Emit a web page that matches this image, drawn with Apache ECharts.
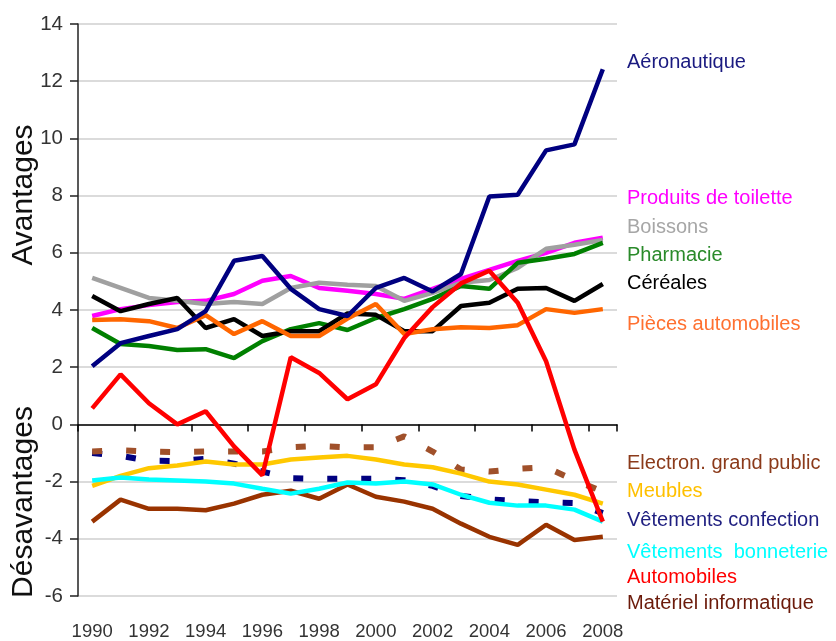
<!DOCTYPE html>
<html>
<head>
<meta charset="utf-8">
<script src="https://cdn.jsdelivr.net/npm/echarts@6/dist/echarts.min.js"></script>
<style>
  html, body { margin: 0; padding: 0; background: #fff; }
  #chart { width: 836px; height: 641px; }
</style>
</head>
<body>
<div id="chart"></div>
<script>
// Années
const years = ['1990', '1991', '1992', '1993', '1994', '1995', '1996', '1997', '1998', '1999',
  '2000', '2001', '2002', '2003', '2004', '2005', '2006', '2007', '2008'];

// Avantages
const aeronautique = [2.03, 2.84, 3.09, 3.33, 3.96, 5.72, 5.89, 4.74, 4.03, 3.79, 4.77, 5.12, 4.65, 5.26, 7.97, 8.03, 9.58, 9.79, 12.42];
const produitsToilette = [3.79, 4.03, 4.17, 4.28, 4.32, 4.56, 5.02, 5.19, 4.77, 4.67, 4.56, 4.39, 4.74, 5.09, 5.4, 5.72, 6.0, 6.35, 6.53];
const boissons = [5.12, 4.77, 4.42, 4.32, 4.21, 4.28, 4.21, 4.77, 4.95, 4.88, 4.84, 4.32, 4.6, 4.95, 5.05, 5.47, 6.14, 6.28, 6.45];
const pharmacie = [3.37, 2.81, 2.74, 2.6, 2.63, 2.32, 2.91, 3.33, 3.54, 3.3, 3.72, 4.03, 4.39, 4.84, 4.74, 5.65, 5.79, 5.96, 6.35];
const cereales = [4.49, 3.96, 4.21, 4.42, 3.37, 3.68, 3.09, 3.26, 3.26, 3.88, 3.83, 3.26, 3.26, 4.14, 4.25, 4.74, 4.77, 4.32, 4.91];
const piecesAuto = [3.65, 3.68, 3.61, 3.37, 3.82, 3.16, 3.61, 3.09, 3.09, 3.7, 4.21, 3.16, 3.33, 3.4, 3.37, 3.47, 4.03, 3.9, 4.03];
const automobiles = [0.56, 1.75, 0.74, 0.0, 0.46, -0.77, -1.78, 2.35, 1.8, 0.88, 1.4, 3.02, 4.1, 4.93, 5.37, 4.25, 2.21, -0.88, -3.4];

// Désavantages
const electron = [-0.95, -0.9, -0.95, -0.97, -0.95, -0.95, -0.95, -0.8, -0.75, -0.8, -0.8, -0.42, -0.95, -1.58, -1.65, -1.55, -1.5, -1.95, -2.35];
const confection = [-1.0, -1.1, -1.27, -1.28, -1.2, -1.37, -1.65, -1.88, -1.9, -1.9, -1.9, -1.95, -2.15, -2.5, -2.62, -2.68, -2.72, -2.75, -3.1];
const meubles = [-2.15, -1.8, -1.53, -1.44, -1.3, -1.4, -1.4, -1.23, -1.16, -1.1, -1.23, -1.4, -1.5, -1.72, -2.0, -2.1, -2.28, -2.46, -2.77];
const bonneterie = [-1.96, -1.86, -1.93, -1.96, -2.0, -2.07, -2.25, -2.42, -2.25, -2.03, -2.07, -2.0, -2.1, -2.46, -2.74, -2.84, -2.84, -2.98, -3.4];
const materielInfo = [-3.4, -2.63, -2.95, -2.95, -3.0, -2.77, -2.46, -2.32, -2.6, -2.1, -2.53, -2.7, -2.95, -3.47, -3.93, -4.21, -3.51, -4.04, -3.93];

// Étiquettes à droite
const labelNames = ['Aéronautique', 'Produits de toilette', 'Boissons', 'Pharmacie', 'Céréales', 'Pièces automobiles',
  'Electron. grand public', 'Meubles', 'Vêtements confection', 'Vêtements  bonneterie', 'Automobiles', 'Matériel informatique'];
const labelColors = ['#1a1a80', '#ff00ff', '#a6a6a6', '#2a8a2a', '#000000', '#ff7030',
  '#8b3a1a', '#ffc000', '#1f1f80', '#00ffff', '#ff0000', '#6b1a0a'];
const labelY = [62, 198, 227, 255, 283, 324, 463, 491, 520, 552, 577, 603];

const FONT = '"Liberation Sans", Arial, sans-serif';

function line(name, data, color, dashed) {
  return {
    name: name,
    type: 'line',
    data: data,
    symbol: 'none',
    xAxisIndex: 0,
    lineStyle: dashed
      ? { color: color, width: 6, type: [10, 24], cap: 'butt' }
      : { color: color, width: 4.5 },
    silent: true
  };
}

const chart = echarts.init(document.getElementById('chart'));

chart.setOption({
  animation: false,
  grid: { left: 78, right: 219, top: 24, bottom: 45 },
  xAxis: [
    {
      type: 'category',
      data: years,
      boundaryGap: true,
      position: 'bottom',
      axisLine: { onZero: true, lineStyle: { color: '#000', width: 1.5 } },
      axisTick: { show: true, length: 7, lineStyle: { color: '#000', width: 1.5 } },
      axisLabel: { show: false },
      splitLine: { show: false }
    },
    {
      type: 'category',
      data: years,
      boundaryGap: true,
      position: 'bottom',
      axisLine: { show: false, onZero: false },
      axisTick: { show: false },
      axisLabel: { interval: 1, margin: 26, fontSize: 18.5, color: '#333', fontFamily: FONT },
      splitLine: { show: false }
    }
  ],
  yAxis: {
    type: 'value',
    min: -6,
    max: 14,
    interval: 2,
    axisLine: { show: true, lineStyle: { color: '#222', width: 1.5 } },
    axisTick: { show: true, length: 8, lineStyle: { color: '#222', width: 1.5 } },
    axisLabel: { margin: 15, fontSize: 20.5, color: '#333', fontFamily: FONT },
    splitLine: { lineStyle: { color: '#cfcfcf', width: 1.5 } }
  },
  series: [
    line('Vêtements confection', confection, '#000080', true),
    line('Electron. grand public', electron, '#a0502a', true),
    line('Matériel informatique', materielInfo, '#993300', false),
    line('Meubles', meubles, '#ffc800', false),
    line('Vêtements bonneterie', bonneterie, '#00ffff', false),
    line('Produits de toilette', produitsToilette, '#ff00ff', false),
    line('Boissons', boissons, '#a0a0a0', false),
    line('Pharmacie', pharmacie, '#008000', false),
    line('Céréales', cereales, '#000000', false),
    line('Pièces automobiles', piecesAuto, '#ff6600', false),
    line('Aéronautique', aeronautique, '#000080', false),
    line('Automobiles', automobiles, '#ff0000', false)
  ],
  graphic: [
    {
      type: 'text', x: 24, y: 195, rotation: Math.PI / 2,
      style: { text: 'Avantages', fill: '#111', font: '30px ' + FONT, align: 'center', verticalAlign: 'middle' }
    },
    {
      type: 'text', x: 24, y: 502, rotation: Math.PI / 2,
      style: { text: 'Désavantages', fill: '#111', font: '30px ' + FONT, align: 'center', verticalAlign: 'middle' }
    }
  ].concat(labelNames.map(function (n, i) {
    return {
      type: 'text', x: 627, y: labelY[i],
      style: { text: n, fill: labelColors[i], font: '20px ' + FONT, align: 'left', verticalAlign: 'middle' }
    };
  }))
});
</script>
</body>
</html>
